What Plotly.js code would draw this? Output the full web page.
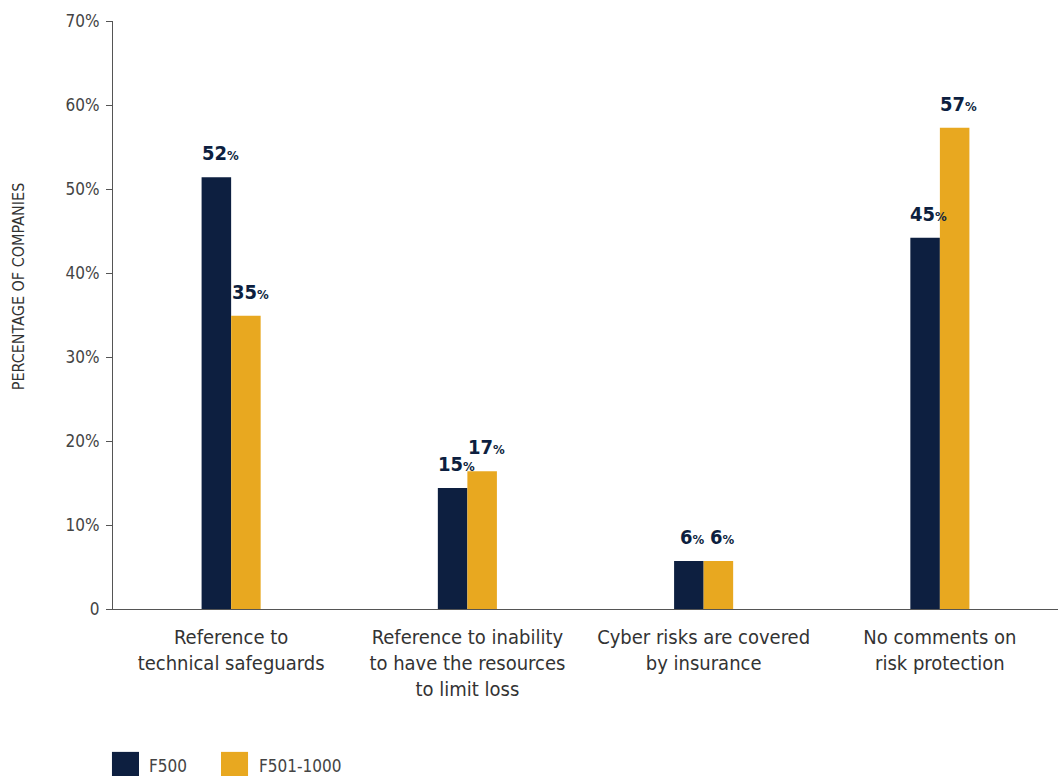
<!DOCTYPE html>
<html>
<head>
<meta charset="utf-8">
<script src="https://cdn.plot.ly/plotly-3.0.1.min.js"></script>
<style>
  html, body { margin: 0; padding: 0; background: #ffffff; }
  #chart { width: 1058px; height: 776px; }
</style>
</head>
<body>
<div id="chart"></div>
<script>
// ---- Data ----
const categories = [
  "Reference to<br>technical safeguards",
  "Reference to inability<br>to have the resources<br>to limit loss",
  "Cyber risks are covered<br>by insurance",
  "No comments on<br>risk protection"
];
const seriesNames = ["F500", "F501-1000"];
const f500Values = [51.4, 14.4, 5.7, 44.2];
const f501Values = [34.9, 16.4, 5.7, 57.3];
const f500Labels = [52, 15, 6, 45];
const f501Labels = [35, 17, 6, 57];
const yTickVals = [0, 10, 20, 30, 40, 50, 60, 70];
const yTickText = ["0", "10%", "20%", "30%", "40%", "50%", "60%", "70%"];
const yAxisTitle = "PERCENTAGE OF COMPANIES";

// ---- Styling ----
const FONT = '"Liberation Sans Narrow", "DejaVu Sans Condensed", "Roboto", sans-serif';
const NAVY = "#0d1f40";
const GOLD = "#e8a820";

function fmt(v) {
  return '<b>' + v + '<span style="font-size:13px">%</span></b>';
}

const traces = [
  {
    type: "bar", name: seriesNames[0], x: categories, y: f500Values,
    marker: { color: NAVY }, hoverinfo: "none"
  },
  {
    type: "bar", name: seriesNames[1], x: categories, y: f501Values,
    marker: { color: GOLD }, hoverinfo: "none"
  }
];

const valueAnnotations = [];
categories.forEach((c, i) => {
  valueAnnotations.push({
    x: c, y: f500Values[i], xref: "x", yref: "y", text: fmt(f500Labels[i]),
    showarrow: false, xanchor: "center", yanchor: "bottom", xshift: -11, yshift: 10,
    font: { family: FONT, size: 20, color: NAVY }
  });
  valueAnnotations.push({
    x: c, y: f501Values[i], xref: "x", yref: "y", text: fmt(f501Labels[i]),
    showarrow: false, xanchor: "center", yanchor: "bottom", xshift: 19, yshift: 10,
    font: { family: FONT, size: 20, color: NAVY }
  });
});

const layout = {
  width: 1058, height: 776,
  margin: { l: 113, r: 0, t: 21, b: 167 },
  paper_bgcolor: "#ffffff", plot_bgcolor: "#ffffff",
  font: { family: FONT, color: "#333333" },
  barmode: "group",
  bargap: 0.75, bargroupgap: 0,
  showlegend: false,
  xaxis: {
    showgrid: false, zeroline: false,
    showline: true, linecolor: "#555555", linewidth: 1,
    ticks: "", tickfont: { family: FONT, size: 20, color: "#333333" },
    ticklabelstandoff: 10,
    fixedrange: true
  },
  yaxis: {
    range: [0, 70], showgrid: false, zeroline: false,
    showline: true, linecolor: "#555555", linewidth: 1,
    ticks: "outside", ticklen: 6, tickcolor: "#555555",
    tickvals: yTickVals, ticktext: yTickText,
    tickfont: { family: FONT, size: 17, color: "#444444" },
    ticklabelstandoff: 3,
    fixedrange: true
  },
  shapes: [
    { type: "rect", xref: "paper", yref: "paper", x0: -0.0011, x1: 0.0275, y0: -0.2985, y1: -0.243, fillcolor: NAVY, line: { width: 0 } },
    { type: "rect", xref: "paper", yref: "paper", x0: 0.1143, x1: 0.1429, y0: -0.2985, y1: -0.243, fillcolor: GOLD, line: { width: 0 } }
  ],
  annotations: valueAnnotations.concat([
    { text: yAxisTitle, xref: "paper", yref: "paper", x: -0.1, y: 0.548, textangle: -90,
      showarrow: false, font: { family: FONT, size: 16, color: "#333333" }, xanchor: "center", yanchor: "middle" },
    { text: seriesNames[0], xref: "paper", yref: "paper", x: 0.036, y: -0.267, showarrow: false,
      xanchor: "left", yanchor: "middle", font: { family: FONT, size: 17, color: "#444444" } },
    { text: seriesNames[1], xref: "paper", yref: "paper", x: 0.152, y: -0.267, showarrow: false,
      xanchor: "left", yanchor: "middle", font: { family: FONT, size: 17, color: "#444444" } }
  ])
};

Plotly.newPlot("chart", traces, layout, { displayModeBar: false, staticPlot: true });
</script>
</body>
</html>
